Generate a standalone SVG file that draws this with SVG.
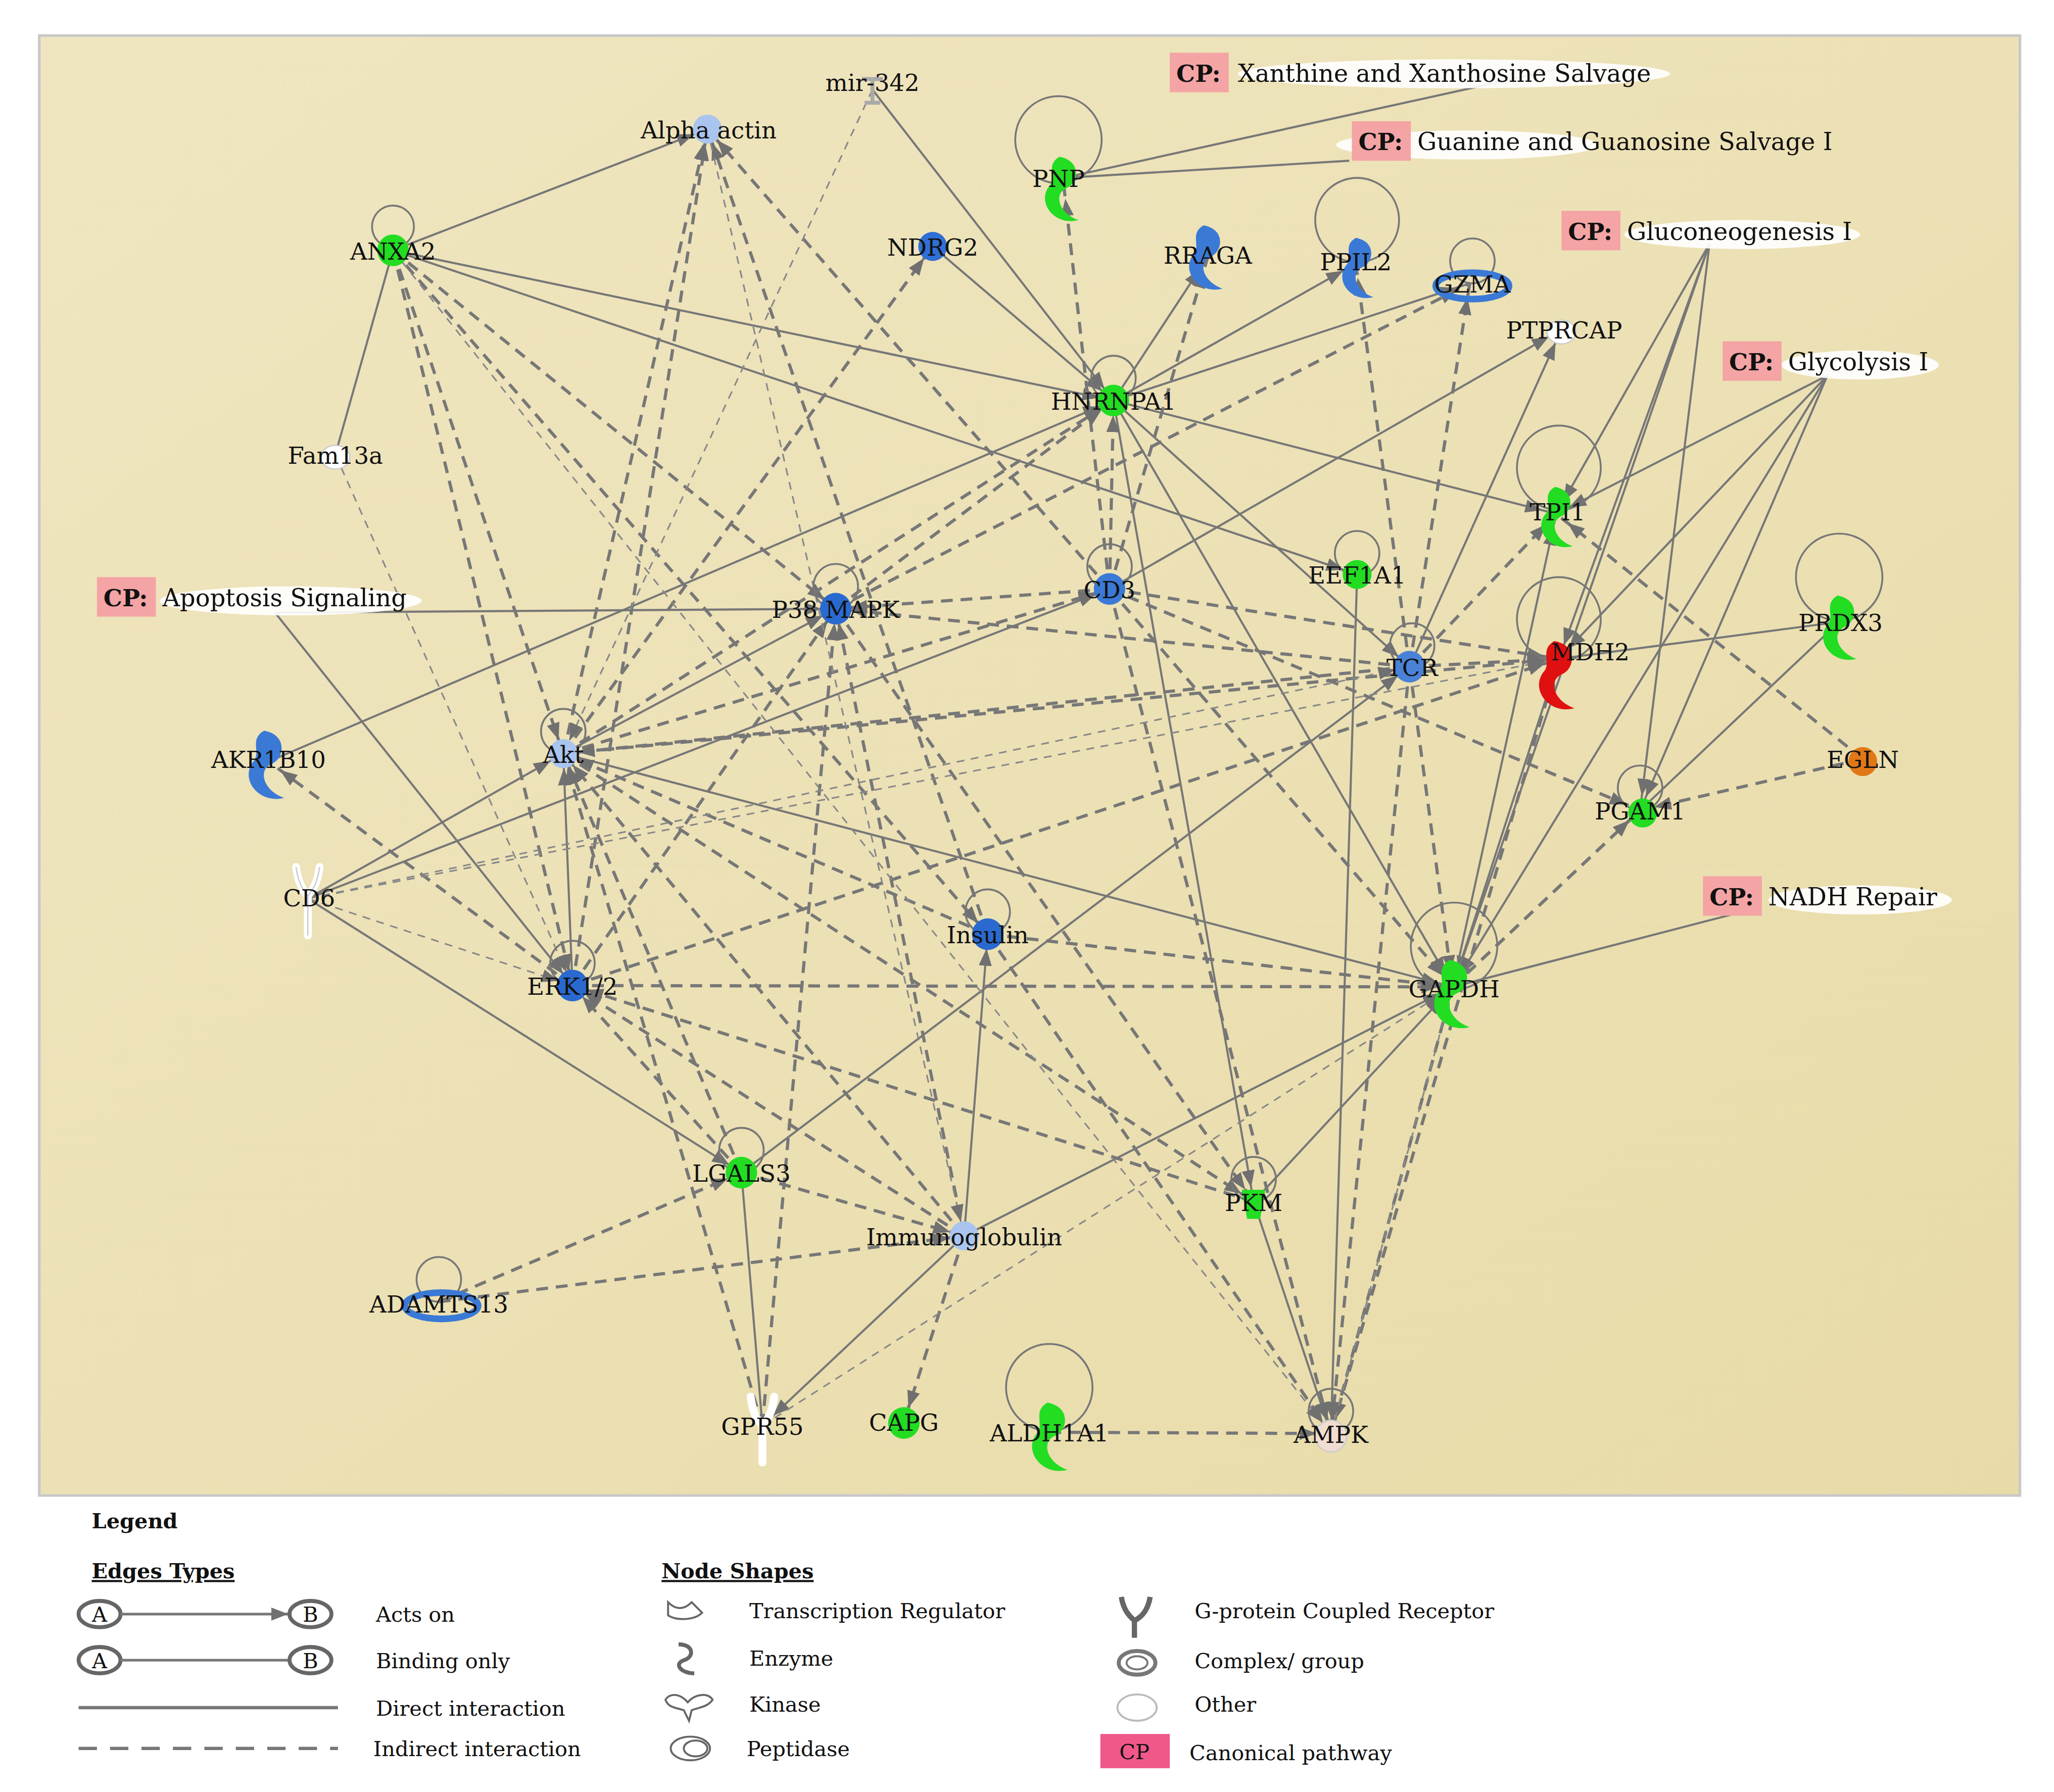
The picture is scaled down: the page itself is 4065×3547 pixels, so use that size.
<svg xmlns="http://www.w3.org/2000/svg" width="4065" height="3547" viewBox="0 0 4065 3547">
<defs>
<linearGradient id="bg" x1="0" y1="0" x2="1" y2="1"><stop offset="0" stop-color="#efe5c0"/><stop offset="0.5" stop-color="#ece1b5"/><stop offset="1" stop-color="#e8dba8"/></linearGradient>
<marker id="ah" markerUnits="userSpaceOnUse" markerWidth="14" markerHeight="10" refX="24" refY="5" orient="auto"><path d="M0,0 L13,5 L0,10 Z" fill="#707070"/></marker>
<marker id="lh" markerUnits="userSpaceOnUse" markerWidth="14" markerHeight="10" refX="13" refY="5" orient="auto"><path d="M0,0 L13,5 L0,10 Z" fill="#707070"/></marker>
<path id="enz" d="M-2,-15 C9,-13 7,-2 1,0 C-5,3 -2,12 7,15 C-4,18 -13,7 -7,-1 C-3,-5 -9,-11 -2,-15 Z"/>
</defs>
<style>
.s{stroke:#777;stroke-width:1.6;fill:none;marker-end:url(#ah)}
.sn{stroke:#777;stroke-width:1.6;fill:none}
.d{stroke:#777;stroke-width:2.4;fill:none;stroke-dasharray:9 6;marker-end:url(#ah)}
.dt{stroke:#888;stroke-width:1.2;fill:none;stroke-dasharray:6 5;marker-end:url(#ah)}
.loop{stroke:#777;stroke-width:1.4;fill:none}
.lb{font-family:"DejaVu Serif",serif;font-size:18px;fill:#111;text-anchor:middle}
.cpb{fill:#f4a4a4}
.cpt{font-family:"DejaVu Serif",serif;font-size:18px;font-weight:bold;fill:#111}
.cpl{font-family:"DejaVu Serif",serif;font-size:18.5px;fill:#111}
.lg{font-family:"DejaVu Serif",serif;font-size:16px;fill:#111}
.green{fill:#22dd22}.blue{fill:#2f6fd6}.lblue{fill:#a9c4ee}.red{fill:#e01010}
</style>
<g transform="scale(2.5925 2.608)">
<rect x="0" y="0" width="1568" height="1360" fill="#fff"/>
<rect x="30" y="27" width="1512" height="1108" fill="url(#bg)" stroke="#c8c8c8" stroke-width="2"/>

<g id="connectors">
<path class="sn" d="M812,135 L1200,50"/>
<path class="sn" d="M812,135 L1030,122"/>
<path class="s" d="M1305,185 L1188,390"/>
<path class="s" d="M1305,185 L1190,500"/>
<path class="s" d="M1305,185 L1252,615"/>
<path class="s" d="M1305,185 L1109,749"/>
<path class="s" d="M1395,285 L1188,390"/>
<path class="s" d="M1395,285 L1252,615"/>
<path class="s" d="M1395,285 L1109,749"/>
<path class="s" d="M1395,285 L1190,500"/>
<path class="sn" d="M1330,692 L1109,749"/>
<path class="s" d="M210,465 L638,462"/>
<path class="s" d="M210,465 L437,748"/>
<path class="s" d="M300,190 L540,98"/>
<path class="s" d="M300,190 L850,304"/>
<path class="s" d="M300,190 L1036,436"/>
<path class="sn" d="M300,190 L256,345"/>
<path class="s" d="M666,68 L850,304"/>
<path class="s" d="M712,187 L850,304"/>
<path class="s" d="M850,304 L922,195"/>
<path class="s" d="M850,304 L1035,200"/>
<path class="s" d="M850,304 L1122,215"/>
<path class="s" d="M850,304 L1188,390"/>
<path class="s" d="M850,304 L957,912"/>
<path class="s" d="M850,304 L1109,749"/>
<path class="s" d="M850,304 L1076,506"/>
<path class="s" d="M205,578 L850,304"/>
<path class="s" d="M847,447 L1192,250"/>
<path class="s" d="M1076,506 L1192,250"/>
<path class="sn" d="M1404,472 L1190,500"/>
<path class="sn" d="M1252,615 L1404,472"/>
<path class="s" d="M430,572 L1109,749"/>
<path class="s" d="M437,748 L430,572"/>
<path class="s" d="M235,682 L566,890"/>
<path class="s" d="M235,682 L430,572"/>
<path class="s" d="M235,682 L847,447"/>
<path class="s" d="M566,890 L1076,506"/>
<path class="sn" d="M566,890 L582,1082"/>
<path class="s" d="M736,938 L754,709"/>
<path class="s" d="M736,938 L1109,749"/>
<path class="s" d="M957,912 L1109,749"/>
<path class="s" d="M957,912 L1016,1088"/>
<path class="s" d="M1036,436 L1016,1088"/>
<path class="s" d="M1109,749 L1190,500"/>
<path class="s" d="M1109,749 L1188,390"/>
<path class="s" d="M430,572 L638,462"/>
<path class="s" d="M736,938 L582,1082"/>
<path class="d" d="M300,190 L430,572"/>
<path class="d" d="M300,190 L437,748"/>
<path class="d" d="M300,190 L638,462"/>
<path class="d" d="M300,190 L754,709"/>
<path class="d" d="M430,572 L540,98"/>
<path class="d" d="M437,748 L540,98"/>
<path class="d" d="M754,709 L540,98"/>
<path class="d" d="M847,447 L540,98"/>
<path class="dt" d="M666,68 L430,572"/>
<path class="d" d="M430,572 L712,187"/>
<path class="d" d="M847,447 L812,140"/>
<path class="d" d="M847,447 L922,195"/>
<path class="d" d="M1076,506 L1035,200"/>
<path class="d" d="M1076,506 L1122,215"/>
<path class="d" d="M638,462 L1122,215"/>
<path class="d" d="M430,572 L850,304"/>
<path class="d" d="M638,462 L850,304"/>
<path class="d" d="M847,447 L850,304"/>
<path class="d" d="M847,447 L638,462"/>
<path class="d" d="M1076,506 L638,462"/>
<path class="d" d="M430,572 L847,447"/>
<path class="d" d="M847,447 L1190,500"/>
<path class="d" d="M1076,506 L1190,500"/>
<path class="d" d="M430,572 L1190,500"/>
<path class="d" d="M1076,506 L1188,390"/>
<path class="d" d="M437,748 L1190,500"/>
<path class="d" d="M847,447 L1252,615"/>
<path class="d" d="M754,709 L430,572"/>
<path class="d" d="M736,938 L430,572"/>
<path class="d" d="M566,890 L430,572"/>
<path class="d" d="M582,1082 L430,572"/>
<path class="d" d="M437,748 L205,578"/>
<path class="d" d="M566,890 L437,748"/>
<path class="d" d="M736,938 L437,748"/>
<path class="d" d="M957,912 L437,748"/>
<path class="d" d="M437,748 L1109,749"/>
<path class="d" d="M754,709 L1109,749"/>
<path class="d" d="M582,1082 L638,462"/>
<path class="d" d="M736,938 L638,462"/>
<path class="d" d="M638,462 L957,912"/>
<path class="d" d="M754,709 L1016,1088"/>
<path class="d" d="M430,572 L957,912"/>
<path class="d" d="M335,988 L566,890"/>
<path class="d" d="M335,988 L736,938"/>
<path class="d" d="M736,938 L690,1079"/>
<path class="d" d="M801,1087 L1016,1088"/>
<path class="d" d="M1016,1088 L1109,749"/>
<path class="d" d="M1076,506 L1016,1088"/>
<path class="d" d="M847,447 L1016,1088"/>
<path class="d" d="M1190,500 L1016,1088"/>
<path class="d" d="M1076,506 L1109,749"/>
<path class="d" d="M847,447 L1109,749"/>
<path class="d" d="M1422,576 L1188,390"/>
<path class="d" d="M1422,576 L1252,615"/>
<path class="d" d="M566,890 L736,938"/>
<path class="d" d="M1076,506 L430,572"/>
<path class="d" d="M437,748 L638,462"/>
<path class="d" d="M1109,749 L1252,615"/>
<path class="dt" d="M256,345 L437,748"/>
<path class="dt" d="M235,682 L1076,506"/>
<path class="dt" d="M235,682 L1190,500"/>
<path class="dt" d="M235,682 L437,748"/>
<path class="dt" d="M540,98 L736,938"/>
<path class="dt" d="M300,190 L1016,1088"/>
<path class="dt" d="M582,1082 L1109,749"/>
<path class="dt" d="M1016,1088 L1109,749"/>
<circle class="loop" cx="300" cy="172" r="16"/>
<circle class="loop" cx="808" cy="106" r="33"/>
<circle class="loop" cx="1036" cy="167" r="32"/>
<circle class="loop" cx="1124" cy="198" r="17"/>
<circle class="loop" cx="850" cy="287" r="17"/>
<circle class="loop" cx="1190" cy="355" r="32"/>
<circle class="loop" cx="1036" cy="420" r="17"/>
<circle class="loop" cx="847" cy="430" r="17"/>
<circle class="loop" cx="638" cy="445" r="17"/>
<circle class="loop" cx="1404" cy="438" r="33"/>
<circle class="loop" cx="1190" cy="470" r="32"/>
<circle class="loop" cx="1078" cy="490" r="17"/>
<circle class="loop" cx="430" cy="555" r="17"/>
<circle class="loop" cx="1252" cy="598" r="17"/>
<circle class="loop" cx="754" cy="692" r="17"/>
<circle class="loop" cx="437" cy="731" r="17"/>
<circle class="loop" cx="1110" cy="718" r="33"/>
<circle class="loop" cx="566" cy="873" r="17"/>
<circle class="loop" cx="957" cy="895" r="17"/>
<circle class="loop" cx="335" cy="971" r="17"/>
<circle class="loop" cx="801" cy="1053" r="33"/>
<circle class="loop" cx="1016" cy="1071" r="17"/>
</g>

<g id="mir-342"><path d="M658,60 L674,60 M666,60 L666,78 M660,78 L672,78" stroke="#aaa" stroke-width="3" fill="none"/><text class="lb" x="666" y="69">mir-342</text></g>
<g id="alpha-actin"><circle cx="540" cy="98" r="11" class="lblue"/><text class="lb" x="541" y="105">Alpha actin</text></g>
<g id="anxa2"><circle cx="300" cy="190" r="12" class="green"/><text class="lb" x="300" y="197">ANXA2</text></g>
<g id="ndrg2"><circle cx="712" cy="187" r="11" class="blue"/><text class="lb" x="712" y="194">NDRG2</text></g>
<g id="pnp"><use href="#enz" class="green" transform="translate(812 143) scale(1.6)"/><text class="lb" x="808" y="142">PNP</text></g>
<g id="rraga"><use href="#enz" fill="#3a7ad6" transform="translate(922 195) scale(1.6)"/><text class="lb" x="922" y="200">RRAGA</text></g>
<g id="ppil2"><use href="#enz" fill="#3a7ad6" transform="translate(1038 203) scale(1.5)"/><text class="lb" x="1035" y="205">PPIL2</text></g>
<g id="gzma"><ellipse cx="1124" cy="217" rx="28" ry="10" fill="none" stroke="#3a7ad6" stroke-width="5"/><text class="lb" x="1124" y="222">GZMA</text></g>
<g id="ptprcap"><ellipse cx="1192" cy="252" rx="11" ry="9" fill="#fff" stroke="#ccc"/><text class="lb" x="1194" y="257">PTPRCAP</text></g>
<g id="hnrnpa1"><circle cx="850" cy="304" r="12" class="green"/><text class="lb" x="850" y="311">HNRNPA1</text></g>
<g id="fam13a"><ellipse cx="256" cy="347" rx="11" ry="9" fill="#fff" stroke="#ccc"/><text class="lb" x="256" y="352">Fam13a</text></g>
<g id="tpi1"><use href="#enz" class="green" transform="translate(1190 392) scale(1.5)"/><text class="lb" x="1189" y="395">TPI1</text></g>
<g id="eef1a1"><circle cx="1036" cy="436" r="11" class="green"/><text class="lb" x="1036" y="443">EEF1A1</text></g>
<g id="cd3"><circle cx="847" cy="447" r="12" fill="#3a7ad6"/><text class="lb" x="847" y="454">CD3</text></g>
<g id="p38-mapk"><circle cx="638" cy="462" r="12" fill="#2a6ad0"/><text class="lb" x="638" y="469">P38 MAPK</text></g>
<g id="prdx3"><use href="#enz" class="green" transform="translate(1406 476) scale(1.6)"/><text class="lb" x="1405" y="479">PRDX3</text></g>
<g id="mdh2"><use href="#enz" class="red" transform="translate(1190 512) scale(1.7)"/><text class="lb" x="1214" y="501">MDH2</text></g>
<g id="tcr"><circle cx="1076" cy="506" r="12" fill="#4a82d8"/><text class="lb" x="1078" y="513">TCR</text></g>
<g id="akr1b10"><use href="#enz" fill="#3a7ad6" transform="translate(205 580) scale(1.7)"/><text class="lb" x="205" y="583">AKR1B10</text></g>
<g id="akt"><circle cx="430" cy="572" r="11" class="lblue"/><text class="lb" x="430" y="579">Akt</text></g>
<g id="egln"><circle cx="1422" cy="578" r="11" fill="#e07818"/><text class="lb" x="1422" y="583">EGLN</text></g>
<g id="pgam1"><circle cx="1254" cy="617" r="11" class="green"/><text class="lb" x="1252" y="622">PGAM1</text></g>
<g id="cd6"><path d="M226,658 C228,672 232,676 235,680 L235,710 M244,658 C242,672 238,676 235,680" stroke="#fff" stroke-width="6" fill="none" stroke-linecap="round"/><path d="M226,658 C228,672 232,676 235,680 L235,710 M244,658 C242,672 238,676 235,680" stroke="#ccc" stroke-width="1" fill="none"/><text class="lb" x="236" y="688">CD6</text></g>
<g id="insulin"><circle cx="754" cy="709" r="12" fill="#2a6ad0"/><text class="lb" x="754" y="716">Insulin</text></g>
<g id="erk1-2"><circle cx="437" cy="748" r="12" fill="#2a6ad0"/><text class="lb" x="437" y="755">ERK1/2</text></g>
<g id="gapdh"><use href="#enz" class="green" transform="translate(1110 754) scale(1.7)"/><text class="lb" x="1110" y="757">GAPDH</text></g>
<g id="lgals3"><circle cx="566" cy="890" r="12" class="green"/><text class="lb" x="566" y="897">LGALS3</text></g>
<g id="pkm"><path d="M948,903 L966,903 L962,925 L952,925 Z" class="green"/><text class="lb" x="957" y="919">PKM</text></g>
<g id="immunoglobulin"><circle cx="736" cy="938" r="11" class="lblue"/><text class="lb" x="736" y="945">Immunoglobulin</text></g>
<g id="adamts13"><ellipse cx="337" cy="991" rx="28" ry="10" fill="none" stroke="#3a7ad6" stroke-width="5"/><text class="lb" x="335" y="996">ADAMTS13</text></g>
<g id="gpr55"><path d="M573,1060 C575,1075 579,1078 582,1082 L582,1110 M591,1060 C589,1075 585,1078 582,1082" stroke="#fff" stroke-width="6" fill="none" stroke-linecap="round"/><text class="lb" x="582" y="1089">GPR55</text></g>
<g id="capg"><circle cx="690" cy="1080" r="12" class="green"/><text class="lb" x="690" y="1086">CAPG</text></g>
<g id="aldh1a1"><use href="#enz" class="green" transform="translate(803 1090) scale(1.7)"/><text class="lb" x="801" y="1094">ALDH1A1</text></g>
<g id="ampk"><circle cx="1016" cy="1090" r="12" fill="#f0dcd0" stroke="#ccc"/><text class="lb" x="1016" y="1095">AMPK</text></g>

<g id="cp-xanthine"><ellipse cx="1110" cy="56" rx="165" ry="11" fill="#fff" opacity="0.9"/><rect x="893" y="40" width="45" height="30" class="cpb"/><text class="cpt" x="898" y="62">CP:</text><text class="cpl" x="945" y="62">Xanthine and Xanthosine Salvage</text></g>
<g id="cp-guanine"><ellipse cx="1120" cy="110" rx="100" ry="11" fill="#fff" opacity="0.9"/><rect x="1032" y="92" width="45" height="30" class="cpb"/><text class="cpt" x="1037" y="114">CP:</text><text class="cpl" x="1082" y="114">Guanine and Guanosine Salvage I</text></g>
<g id="cp-gluconeogenesis"><ellipse cx="1330" cy="178" rx="90" ry="11" fill="#fff" opacity="0.9"/><rect x="1192" y="160" width="45" height="30" class="cpb"/><text class="cpt" x="1197" y="182">CP:</text><text class="cpl" x="1242" y="182">Gluconeogenesis I</text></g>
<g id="cp-glycolysis"><ellipse cx="1420" cy="277" rx="60" ry="11" fill="#fff" opacity="0.9"/><rect x="1315" y="259" width="45" height="30" class="cpb"/><text class="cpt" x="1320" y="281">CP:</text><text class="cpl" x="1365" y="281">Glycolysis I</text></g>
<g id="cp-apoptosis"><ellipse cx="222" cy="456" rx="100" ry="11" fill="#fff" opacity="0.9"/><rect x="74" y="438" width="45" height="30" class="cpb"/><text class="cpt" x="79" y="460">CP:</text><text class="cpl" x="124" y="460">Apoptosis Signaling</text></g>
<g id="cp-nadh"><ellipse cx="1420" cy="683" rx="70" ry="11" fill="#fff" opacity="0.9"/><rect x="1300" y="665" width="45" height="30" class="cpb"/><text class="cpt" x="1305" y="687">CP:</text><text class="cpl" x="1350" y="687">NADH Repair</text></g>

<g id="legend">
<text class="lg" x="70" y="1160" font-weight="bold">Legend</text>
<text class="lg" x="70" y="1198" font-weight="bold" text-decoration="underline">Edges Types</text>
<ellipse cx="76" cy="1225" rx="16" ry="10" fill="#fff" stroke="#666" stroke-width="3"/><text class="lg" x="76" y="1231" text-anchor="middle">A</text>
<line x1="92" y1="1225" x2="220" y2="1225" stroke="#777" stroke-width="2" marker-end="url(#lh)"/>
<ellipse cx="237" cy="1225" rx="16" ry="10" fill="#fff" stroke="#666" stroke-width="3"/><text class="lg" x="237" y="1231" text-anchor="middle">B</text>
<text class="lg" x="287" y="1231">Acts on</text>
<ellipse cx="76" cy="1260" rx="16" ry="10" fill="#fff" stroke="#666" stroke-width="3"/><text class="lg" x="76" y="1266" text-anchor="middle">A</text>
<line x1="92" y1="1260" x2="221" y2="1260" stroke="#777" stroke-width="2"/>
<ellipse cx="237" cy="1260" rx="16" ry="10" fill="#fff" stroke="#666" stroke-width="3"/><text class="lg" x="237" y="1266" text-anchor="middle">B</text>
<text class="lg" x="287" y="1266">Binding only</text>
<line x1="60" y1="1296" x2="258" y2="1296" stroke="#777" stroke-width="2.5"/>
<text class="lg" x="287" y="1302">Direct interaction</text>
<line x1="60" y1="1327" x2="258" y2="1327" stroke="#777" stroke-width="2.5" stroke-dasharray="14 10"/>
<text class="lg" x="285" y="1333">Indirect interaction</text>
<text class="lg" x="505" y="1198" font-weight="bold" text-decoration="underline">Node Shapes</text>
<path d="M510,1216 C516,1222 522,1222 528,1216 L536,1224 C530,1230 516,1230 510,1226 Z" fill="none" stroke="#666" stroke-width="1.5"/>
<text class="lg" x="572" y="1228">Transcription Regulator</text>
<path d="M518,1248 C530,1248 530,1258 522,1260 C514,1263 520,1270 530,1270" fill="none" stroke="#666" stroke-width="3"/>
<text class="lg" x="572" y="1264">Enzyme</text>
<path d="M508,1290 C512,1284 520,1286 525,1292 C530,1286 540,1284 544,1290 C540,1296 532,1296 528,1298 L526,1306 L522,1298 C516,1296 510,1296 508,1290 Z" fill="none" stroke="#666" stroke-width="1.5"/>
<text class="lg" x="572" y="1299">Kinase</text>
<ellipse cx="527" cy="1327" rx="15" ry="9" fill="none" stroke="#666" stroke-width="1.5"/><ellipse cx="531" cy="1327" rx="9" ry="6" fill="none" stroke="#666" stroke-width="1.5"/>
<text class="lg" x="570" y="1333">Peptidase</text>
<path d="M856,1212 C858,1224 864,1228 866,1230 L866,1243 M878,1212 C876,1224 870,1228 866,1230" stroke="#666" stroke-width="4" fill="none"/>
<text class="lg" x="912" y="1228">G-protein Coupled Receptor</text>
<ellipse cx="868" cy="1262" rx="14" ry="9" fill="none" stroke="#777" stroke-width="3"/><ellipse cx="868" cy="1262" rx="8" ry="5" fill="none" stroke="#777" stroke-width="1.5"/>
<text class="lg" x="912" y="1266">Complex/ group</text>
<ellipse cx="868" cy="1296" rx="15" ry="10" fill="none" stroke="#bbb" stroke-width="1.5"/>
<text class="lg" x="912" y="1299">Other</text>
<rect x="840" y="1316" width="53" height="26" fill="#f0588a"/><text class="lg" x="866" y="1335" text-anchor="middle">CP</text>
<text class="lg" x="908" y="1336">Canonical pathway</text>
</g>
</g>
</svg>
